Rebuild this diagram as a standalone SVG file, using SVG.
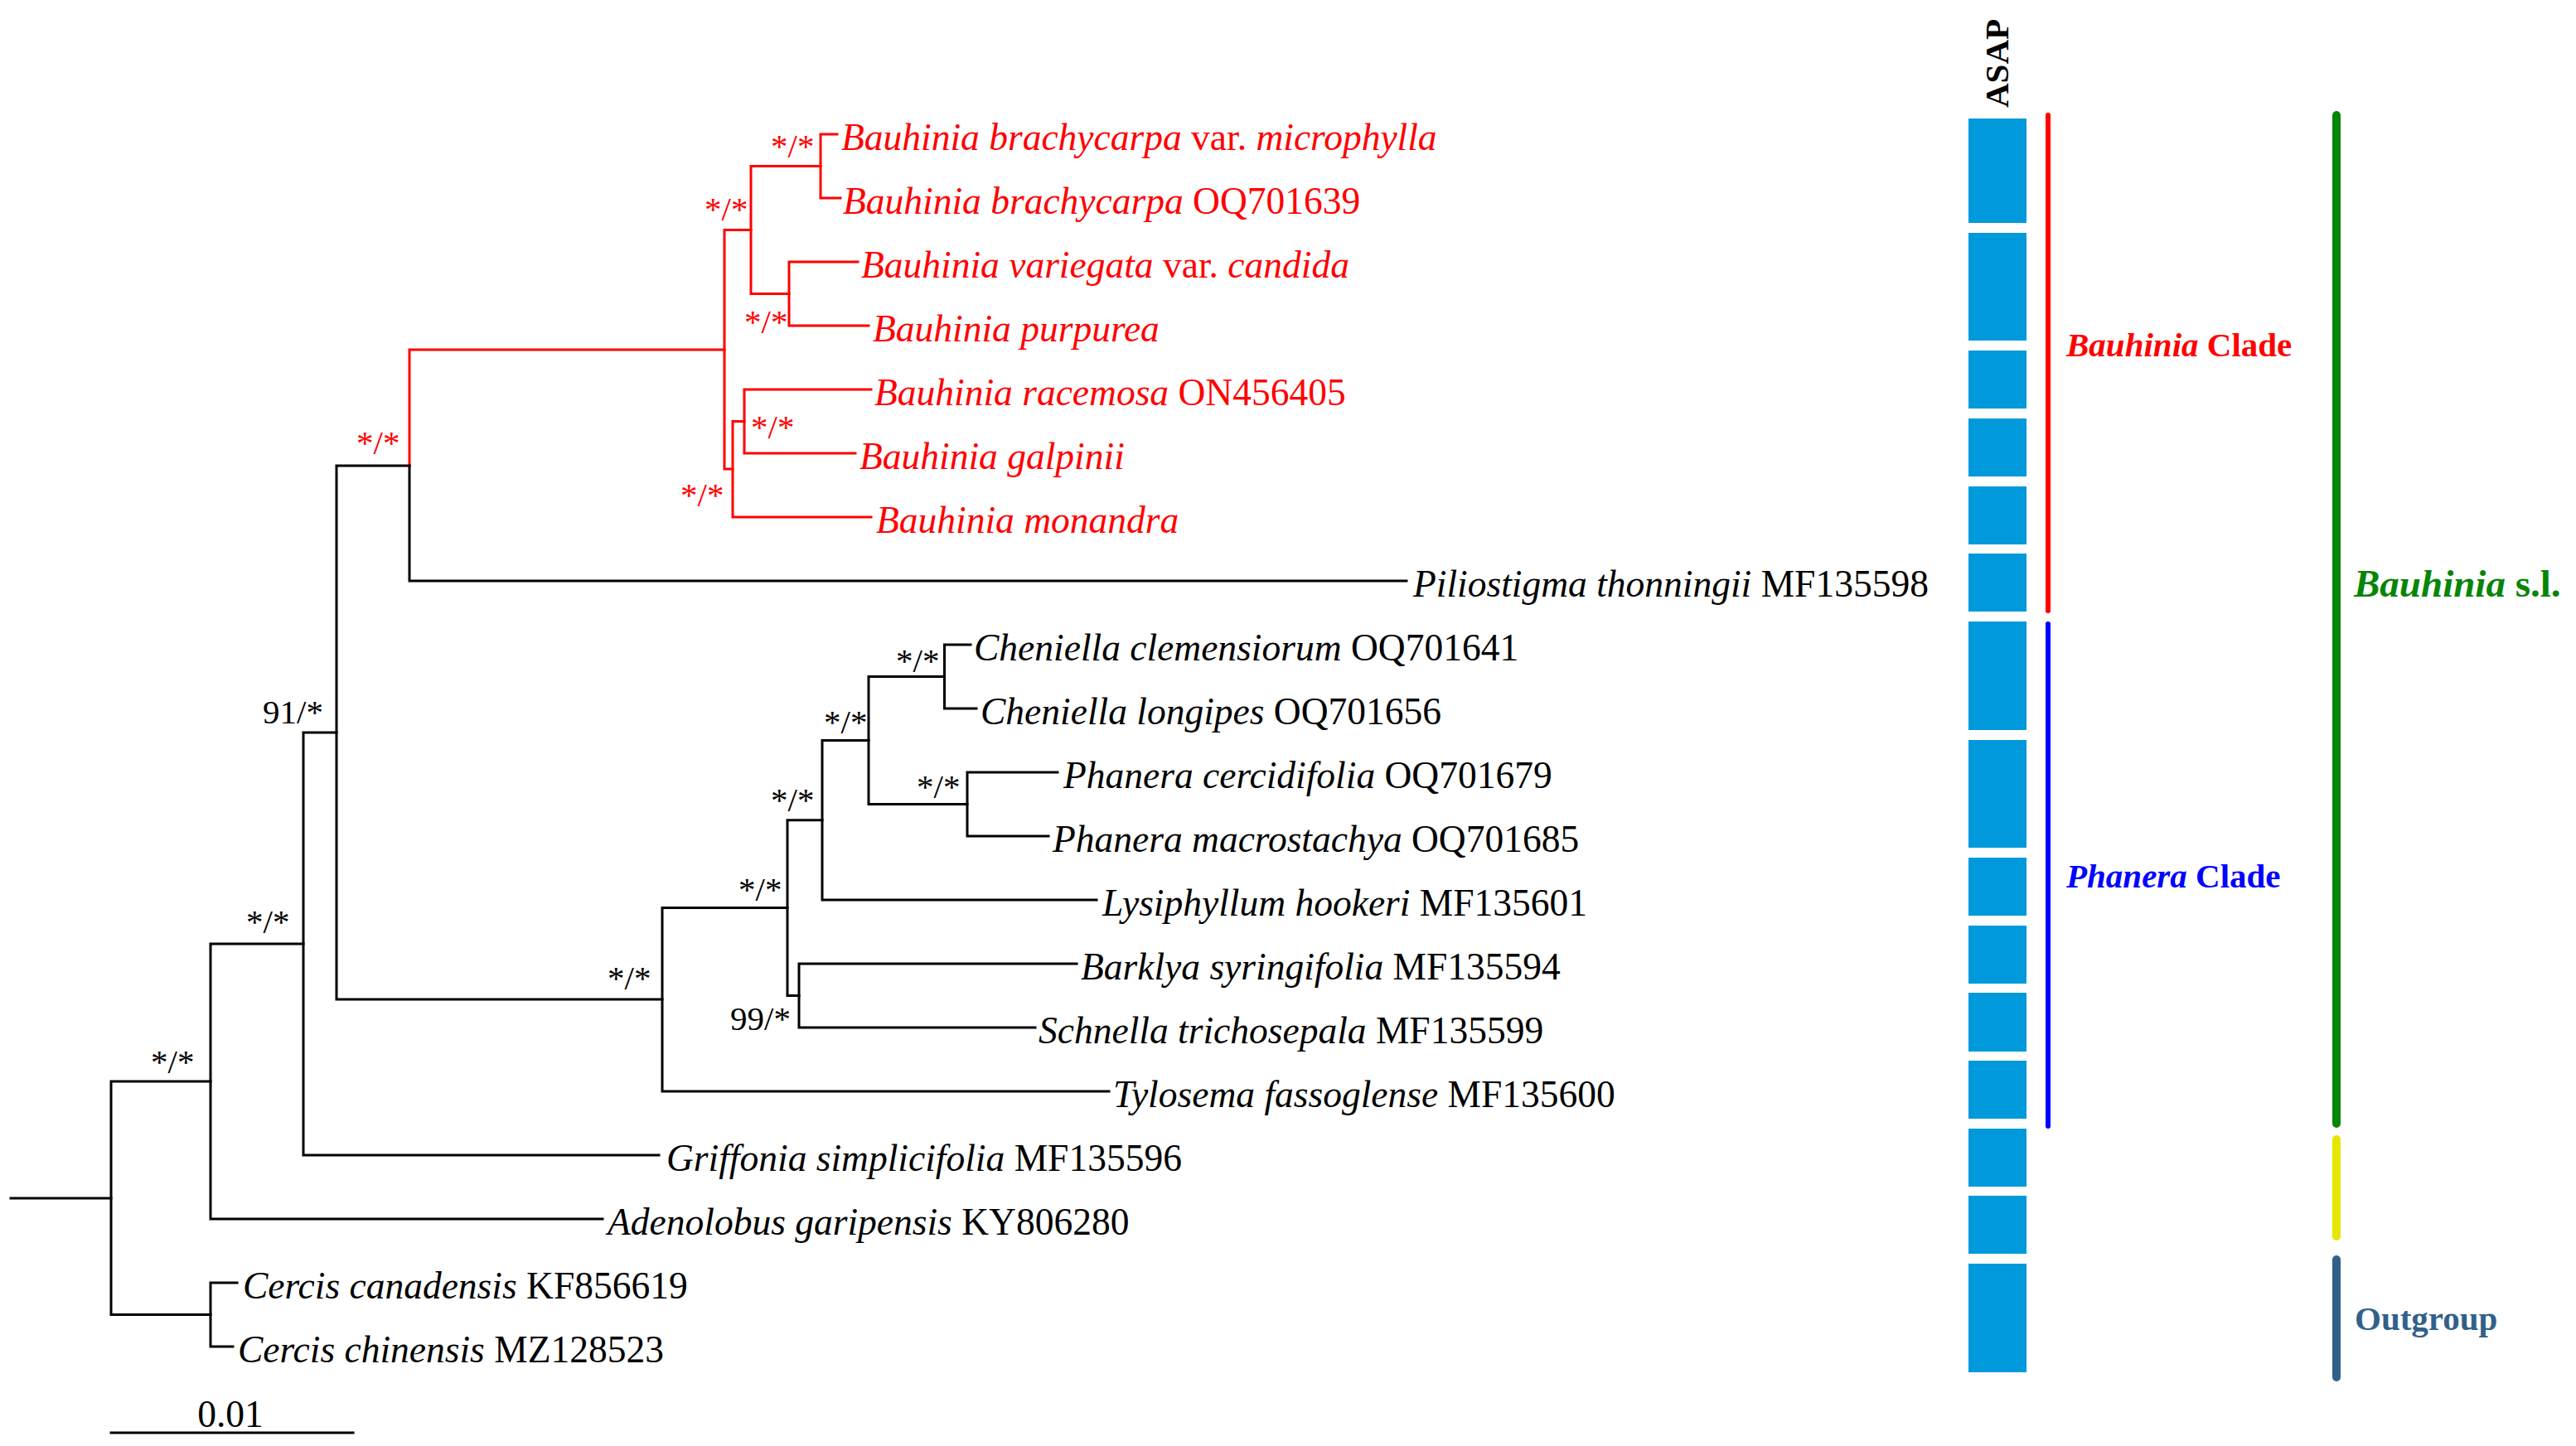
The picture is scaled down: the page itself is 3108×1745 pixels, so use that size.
<svg xmlns="http://www.w3.org/2000/svg" width="3108" height="1745" viewBox="0 0 3108 1745">
<style>
text{font-family:"Liberation Serif","Times New Roman",serif}
.tip{font-size:45.5px;fill:#000}
.it{font-style:italic}
.sup{font-size:41px;fill:#000}
text.red{fill:#ff0000}
.br{fill:none;stroke:#000;stroke-width:3;stroke-linejoin:miter;stroke-linecap:square}
.brr{fill:none;stroke:#ff0000;stroke-width:3;stroke-linejoin:miter;stroke-linecap:square}
.asap{fill:#0099db}
.bar{fill:none;stroke-linecap:round}
.cl{font-weight:bold;font-size:41px}
</style>
<rect width="3108" height="1745" fill="#fff"/>

<g id="connectors">
  <path class="br" d="M13 1446H134"/>
  <path class="br" d="M134 1446V1305H254M134 1446V1586.5H254"/>
  <path class="br" d="M254 1305V1139H366M254 1305V1471H727"/>
  <path class="br" d="M366 1139V884H406M366 1139V1394H795"/>
  <path class="br" d="M406 884V562H494M406 884V1206H799"/>
  <path class="brr" d="M494 562V422H874"/>
  <path class="br" d="M494 562V701H1697"/>
  <path class="brr" d="M874 422V277.5H906M874 422V566H884"/>
  <path class="brr" d="M906 277.5V200.5H990M906 277.5V354.5H952"/>
  <path class="brr" d="M990 200.5V162H1010M990 200.5V239H1014"/>
  <path class="brr" d="M952 354.5V316H1035M952 354.5V393H1048"/>
  <path class="brr" d="M884 566V508.5H898M884 566V624H1051"/>
  <path class="brr" d="M898 508.5V470H1051M898 508.5V547H1032"/>
  <path class="br" d="M799 1206V1095.6H950M799 1206V1317H1338"/>
  <path class="br" d="M950 1095.6V989.75H992M950 1095.6V1201.5H964"/>
  <path class="br" d="M992 989.75V893.5H1048M992 989.75V1086H1323"/>
  <path class="br" d="M1048 893.5V816.5H1139.5M1048 893.5V970.5H1167"/>
  <path class="br" d="M1139.5 816.5V778H1171M1139.5 816.5V855H1178"/>
  <path class="br" d="M1167 970.5V932H1276M1167 970.5V1009H1265"/>
  <path class="br" d="M964 1201.5V1163H1299M964 1201.5V1240H1249"/>
  <path class="br" d="M254 1586.5V1548H286M254 1586.5V1625H281"/>
</g>

<g id="support">
  <text class="sup red" x="430" y="548">*/*</text>
  <text class="sup red" x="850" y="266">*/*</text>
  <text class="sup red" x="930" y="190">*/*</text>
  <text class="sup red" x="898" y="402">*/*</text>
  <text class="sup red" x="906" y="529">*/*</text>
  <text class="sup red" x="821" y="611">*/*</text>
  <text class="sup" x="182" y="1295">*/*</text>
  <text class="sup" x="297" y="1126">*/*</text>
  <text class="sup" x="317" y="873">91/*</text>
  <text class="sup" x="733" y="1194">*/*</text>
  <text class="sup" x="891" y="1087">*/*</text>
  <text class="sup" x="881" y="1243">99/*</text>
  <text class="sup" x="930" y="979">*/*</text>
  <text class="sup" x="994" y="885">*/*</text>
  <text class="sup" x="1081" y="811">*/*</text>
  <text class="sup" x="1106" y="963">*/*</text>
</g>

<g id="tip-brachycarpa-microphylla"><text class="tip red" x="1015" y="181"><tspan class="it">Bauhinia brachycarpa</tspan> var. <tspan class="it">microphylla</tspan></text></g>
<g id="tip-brachycarpa"><text class="tip red" x="1017" y="258"><tspan class="it">Bauhinia brachycarpa</tspan> OQ701639</text></g>
<g id="tip-variegata"><text class="tip red" x="1039" y="335"><tspan class="it">Bauhinia variegata</tspan> var. <tspan class="it">candida</tspan></text></g>
<g id="tip-purpurea"><text class="tip red" x="1053" y="412"><tspan class="it">Bauhinia purpurea</tspan></text></g>
<g id="tip-racemosa"><text class="tip red" x="1055" y="489"><tspan class="it">Bauhinia racemosa</tspan> ON456405</text></g>
<g id="tip-galpinii"><text class="tip red" x="1037" y="566"><tspan class="it">Bauhinia galpinii</tspan></text></g>
<g id="tip-monandra"><text class="tip red" x="1057" y="643"><tspan class="it">Bauhinia monandra</tspan></text></g>
<g id="tip-piliostigma"><text class="tip" x="1705" y="720"><tspan class="it">Piliostigma thonningii</tspan> MF135598</text></g>
<g id="tip-cheniella-clem"><text class="tip" x="1175" y="797"><tspan class="it">Cheniella clemensiorum</tspan> OQ701641</text></g>
<g id="tip-cheniella-long"><text class="tip" x="1183" y="874"><tspan class="it">Cheniella longipes</tspan> OQ701656</text></g>
<g id="tip-phanera-cerc"><text class="tip" x="1283" y="951"><tspan class="it">Phanera cercidifolia</tspan> OQ701679</text></g>
<g id="tip-phanera-macro"><text class="tip" x="1270" y="1028"><tspan class="it">Phanera macrostachya</tspan> OQ701685</text></g>
<g id="tip-lysiphyllum"><text class="tip" x="1330" y="1105"><tspan class="it">Lysiphyllum hookeri</tspan> MF135601</text></g>
<g id="tip-barklya"><text class="tip" x="1304" y="1182"><tspan class="it">Barklya syringifolia</tspan> MF135594</text></g>
<g id="tip-schnella"><text class="tip" x="1253" y="1259"><tspan class="it">Schnella trichosepala</tspan> MF135599</text></g>
<g id="tip-tylosema"><text class="tip" x="1343" y="1336"><tspan class="it">Tylosema fassoglense</tspan> MF135600</text></g>
<g id="tip-griffonia"><text class="tip" x="804" y="1413"><tspan class="it">Griffonia simplicifolia</tspan> MF135596</text></g>
<g id="tip-adenolobus"><text class="tip" x="733" y="1490"><tspan class="it">Adenolobus garipensis</tspan> KY806280</text></g>
<g id="tip-cercis-can"><text class="tip" x="293" y="1567"><tspan class="it">Cercis canadensis</tspan> KF856619</text></g>
<g id="tip-cercis-chin"><text class="tip" x="287" y="1644"><tspan class="it">Cercis chinensis</tspan> MZ128523</text></g>

<g id="scale-bar">
  <path class="br" d="M134 1729H426" stroke-linecap="butt"/>
  <text class="tip" x="278" y="1722" text-anchor="middle">0.01</text>
</g>

<g id="asap">
  <text x="2423" y="130" transform="rotate(-90 2423 130)" font-weight="bold" font-size="41" fill="#000">ASAP</text>
  <rect class="asap" x="2375" y="143" width="70" height="126"/>
  <rect class="asap" x="2375" y="281" width="70" height="130"/>
  <rect class="asap" x="2375" y="423" width="70" height="70"/>
  <rect class="asap" x="2375" y="505" width="70" height="70"/>
  <rect class="asap" x="2375" y="587" width="70" height="70"/>
  <rect class="asap" x="2375" y="668" width="70" height="70"/>
  <rect class="asap" x="2375" y="750" width="70" height="131"/>
  <rect class="asap" x="2375" y="893" width="70" height="130"/>
  <rect class="asap" x="2375" y="1035" width="70" height="70"/>
  <rect class="asap" x="2375" y="1117" width="70" height="70"/>
  <rect class="asap" x="2375" y="1198" width="70" height="71"/>
  <rect class="asap" x="2375" y="1280" width="70" height="70"/>
  <rect class="asap" x="2375" y="1362" width="70" height="70"/>
  <rect class="asap" x="2375" y="1443" width="70" height="70"/>
  <rect class="asap" x="2375" y="1525" width="70" height="131"/>
</g>

<g id="bauhinia-clade">
  <path class="bar" d="M2471 139V737" stroke="#ff0000" stroke-width="6"/>
  <text class="cl" x="2493" y="430" fill="#ff0000"><tspan font-style="italic">Bauhinia</tspan> Clade</text>
</g>
<g id="phanera-clade">
  <path class="bar" d="M2471 753V1359" stroke="#0000ff" stroke-width="6"/>
  <text class="cl" x="2493" y="1071" fill="#0000ff"><tspan font-style="italic">Phanera</tspan> Clade</text>
</g>
<g id="bauhinia-sl">
  <path class="bar" d="M2819 139V1356" stroke="#078507" stroke-width="10"/>
  <text x="2840" y="720" font-weight="bold" font-size="47" fill="#078507"><tspan font-style="italic">Bauhinia</tspan> s.l.</text>
</g>
<g id="yellow-group">
  <path class="bar" d="M2819 1375V1492" stroke="#e6e600" stroke-width="10"/>
</g>
<g id="outgroup">
  <path class="bar" d="M2819 1520V1662" stroke="#31618a" stroke-width="10"/>
  <text class="cl" x="2841" y="1605" fill="#31618a">Outgroup</text>
</g>
</svg>
